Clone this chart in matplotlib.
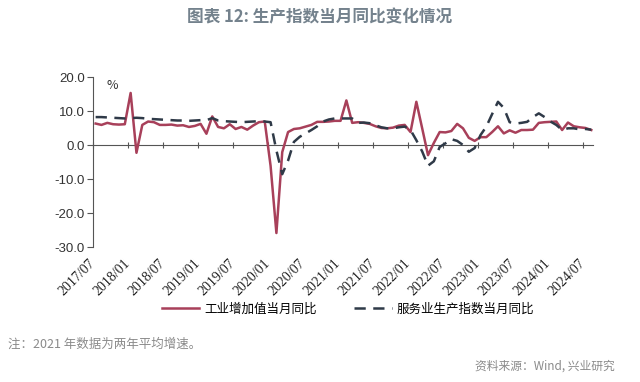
import numpy as np
import pandas as pd
import matplotlib
matplotlib.use("Agg")
import matplotlib.pyplot as plt

plt.rcParams["font.family"] = ["Noto Sans CJK SC", "DejaVu Sans"]
plt.rcParams["axes.unicode_minus"] = False

# ── Données (% a/a) ──────────────────────────────────────────────────────────
months = pd.period_range("2017-07", "2024-08", freq="M").strftime("%Y/%m").tolist()

ind = [6.4, 6.0, 6.6, 6.2, 6.1, 6.2,
       15.4, -2.2, 6.0, 7.0, 6.8, 6.0, 6.0, 6.1, 5.8, 5.9, 5.4, 5.7,
       6.3, 3.4, 8.5, 5.4, 5.0, 6.2, 4.8, 5.4, 4.6, 5.8, 6.8, 7.0,
       -6.0, -25.8, -2.0, 3.9, 4.8, 5.0, 5.5, 6.0, 6.9, 6.9, 7.0, 7.2,
       7.2, 13.2, 6.6, 6.8, 6.6, 6.3, 5.6, 5.1, 5.0, 5.2, 5.8, 6.0,
       3.9, 12.8, 5.0, -2.9, 0.7, 3.9, 3.8, 4.2, 6.3, 5.0, 2.2, 1.3,
       2.4, 2.4, 3.9, 5.6, 3.5, 4.4, 3.7, 4.5, 4.5, 4.6, 6.6, 6.8,
       6.9, 7.0, 4.5, 6.7, 5.6, 5.3, 5.1, 4.5]

svc = [8.3, 8.3, 8.2, 8.1, 8.0, 7.9,
       8.0, 8.1, 8.0, 7.8, 7.7, 7.6, 7.5, 7.4, 7.3, 7.3, 7.2, 7.3,
       7.4, 7.4, 8.0, 7.3, 7.1, 7.0, 6.9, 6.8, 6.9, 7.0, 7.1, 7.0,
       6.8, -1.5, -8.5, -4.5, 1.0, 2.5, 3.5, 4.5, 5.6, 7.0, 7.6, 7.9,
       7.9, 7.9, 7.9, 6.6, 6.7, 6.5, 5.9, 5.3, 5.0, 5.0, 5.3, 5.5,
       4.5, 1.5, -1.8, -6.0, -4.7, -0.5, 0.6, 1.8, 1.3, 0.1, -1.9, -0.8,
       3.0, 5.5, 9.2, 12.8, 11.0, 6.8, 6.4, 6.6, 6.9, 8.3, 9.4, 8.3,
       7.0, 6.0, 4.5, 5.0, 5.0, 4.7, 4.8, 4.6]

tick_pos = list(range(0, len(months), 6))
tick_labels = months[::6]
yticks = [20, 10, 0, -10, -20, -30]

RED  = "#a8405a"
NAVY = "#2f3a48"
GREY = "#555555"

# ── Figure ───────────────────────────────────────────────────────────────────
fig = plt.figure(figsize=(6.4, 3.82), dpi=100)
ax = fig.add_axes([0.1458, 0.3526, 0.7808, 0.445])

x = np.arange(len(months)) + 0.4   # points décalés d'un demi-mois / ticks
ax.plot(x, ind, color=RED, lw=1.8, label="工业增加值当月同比")
ax.plot(x, svc, color=NAVY, lw=1.8, ls=(0, (4.5, 3)), label="服务业生产指数当月同比")

ax.set_xlim(0, 85.7)
ax.set_ylim(-30, 20)
ax.set_yticks(yticks)
ax.set_yticklabels([f"{v:.1f}" for v in yticks], family="Liberation Sans",
                   fontsize=9.5, color="#333333")
for s in ["top", "right", "bottom"]:
    ax.spines[s].set_visible(False)
ax.spines["left"].set_color(GREY)
ax.tick_params(axis="y", direction="out", length=4, color=GREY, pad=2)

ax.set_xticks(tick_pos)
ax.set_xticklabels(tick_labels, rotation=45, ha="right", va="center",
                   rotation_mode="anchor", family="Liberation Serif",
                   fontsize=10, color="#222222")
ax.tick_params(axis="x", length=0, pad=10)

# axe du zéro avec graduations
zero = ax.secondary_xaxis(30 / 50)
zero.set_xticks(tick_pos)
zero.set_xticklabels([])
zero.tick_params(direction="inout", length=5, color=GREY)
for s in zero.spines.values():
    s.set_color(GREY)

ax.text(0.027, 0.95, "%", transform=ax.transAxes, fontsize=9,
        color="#333333", va="center", ha="left")

fig.text(0.5, 1 - 17 / 382, "图表 12: 生产指数当月同比变化情况", ha="center",
         va="center", fontsize=12, fontweight="bold", color="#74828d")

fig.legend(loc="center", bbox_to_anchor=(348 / 640, 1 - 309 / 382), ncol=2,
           frameon=False, fontsize=9, handlelength=3, columnspacing=3,
           handletextpad=0.4)

fig.text(8 / 640, 1 - 344 / 382, "注：2021 年数据为两年平均增速。", fontsize=9,
         color="#8a8a8a", va="center", ha="left")
fig.text(615 / 640, 1 - 366 / 382, "资料来源：Wind, 兴业研究", fontsize=8.5,
         color="#8a8a8a", va="center", ha="right")

fig.savefig("out.png", dpi=100)
plt.close(fig)
